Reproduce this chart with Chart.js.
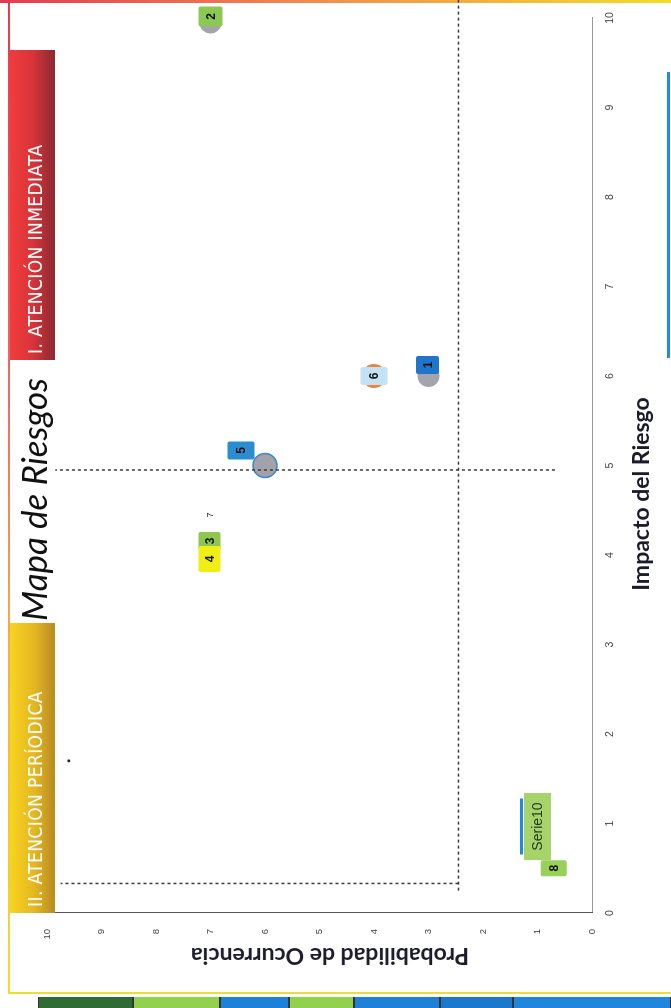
<!DOCTYPE html>
<html><head><meta charset="utf-8">
<script src="https://cdn.jsdelivr.net/npm/chart.js@4.4.0/dist/chart.umd.min.js"></script>
<style>
html,body{margin:0;padding:0;background:#fff;width:671px;height:1008px;overflow:hidden;}
#stage{position:absolute;left:0;top:0;width:1008px;height:671px;transform-origin:0 0;transform:translateY(1008px) rotate(-90deg);background:#fff;overflow:hidden;}
.abs{position:absolute;}
#chart{position:absolute;left:0;top:0;}
.bar{position:absolute;color:#fff;font-family:"Liberation Sans Narrow","DejaVu Sans Condensed","Roboto",sans-serif;font-size:19px;letter-spacing:0.4px;line-height:45px;padding-left:6px;box-sizing:border-box;white-space:nowrap;padding-top:3px;}
#titulo{position:absolute;left:387px;top:16px;font-family:"Lato",sans-serif;font-style:italic;font-size:35px;line-height:35px;color:#111;white-space:nowrap;}
.ejeTitulo{position:absolute;font-family:"Lato",sans-serif;font-weight:700;font-size:23px;line-height:26px;color:#1b1b2b;white-space:nowrap;}
.cell{position:absolute;left:0;width:11px;box-sizing:border-box;border-top:1px solid #333;border-bottom:1px solid #333;}
</style></head>
<body>
<div id="stage">
  <div class="abs" style="left:15px;top:8px;width:993px;height:2px;background:linear-gradient(to right,#f0dc30 0%,#f3b04a 35%,#ec6a6a 60%,#e8384f 100%);"></div>
  <div class="abs" style="left:1005px;top:0;width:3px;height:671px;background:linear-gradient(to bottom,#e8384f 0%,#f08a50 45%,#f3dc2a 100%);"></div>
  <div class="abs" style="left:14px;top:8px;width:2px;height:663px;background:#e8df3a;"></div>
  <canvas id="chart" width="1008" height="671"></canvas>
  <div class="bar" style="left:648px;top:10px;width:310px;height:45px;background:linear-gradient(to bottom,#f23c3c 0%,#d8343a 50%,#8a2a30 100%);">I. ATENCIÓN INMEDIATA</div>
  <div class="bar" style="left:95px;top:10px;width:290px;height:45px;background:linear-gradient(to bottom,#f8d420 0%,#e4b622 55%,#b48c22 100%);">II. ATENCIÓN PERÍODICA</div>
  <div id="titulo">Mapa de Riesgos</div>
  <div class="ejeTitulo" style="left:51px;top:330px;transform:translate(-50%,-50%) rotate(-90deg);">Probabilidad de Ocurrencia</div>
  <div class="ejeTitulo" style="left:514px;top:640px;transform:translate(-50%,-50%);">Impacto del Riesgo</div>
  <div class="abs" style="left:650px;top:667px;width:286px;height:3px;background:#1e8fe0;"></div>
  <div class="cell" style="top:38px;height:95px;background:#2f6b34;"></div>
  <div class="cell" style="top:133px;height:87px;background:#92d050;"></div>
  <div class="cell" style="top:220px;height:69px;background:#1e80d8;"></div>
  <div class="cell" style="top:289px;height:65px;background:#92d050;"></div>
  <div class="cell" style="top:354px;height:86px;background:#1e80d8;"></div>
  <div class="cell" style="top:440px;height:73px;background:#1c78cc;"></div>
  <div class="cell" style="top:513px;height:158px;background:#1e86dc;"></div>
</div>
<script>
// ---- Data ----
const riesgos = ['1','2','3','4','5','6','7','8'];
const impacto = [6, 9.95, 4, 4, 5, 6, 4, 0.5];
const probabilidad = [3, 7, 7, 7, 6, 4, 7, 0.7];
const serieNombre = ['Serie10'];
const serieImpacto = [1];
const serieProbabilidad = [1];
const puntoImpacto = [1.7];
const puntoProbabilidad = [9.6];
const limiteProbImpacto = [0.25, 10.2];
const limiteProbValor = [2.45, 2.45];
const limiteImpValor = [4.95, 4.95];
const limiteImpProbabilidad = [0.68, 9.85];
const limiteBajoImpacto = [0.33, 0.33];
const limiteBajoProbabilidad = [2.45, 9.75];
const ticksEje = [0,1,2,3,4,5,6,7,8,9,10];

// ---- Styles ----
const estiloMarcador = {
  '1':{r:11,c:'#a4a4ac',b:'#a4a4ac',bw:0},
  '2':{r:11,c:'#a4a4ac',b:'#a4a4ac',bw:0},
  '3':{r:7,c:'#a4a4ac',b:'#a4a4ac',bw:0},
  '4':{r:7,c:'#a4a4ac',b:'#a4a4ac',bw:0},
  '5':{r:12,c:'#a2a2aa',b:'#3b86c8',bw:1.5},
  '6':{r:12,c:'#ee8040',b:'#ee8040',bw:0},
  '7':{r:0,c:'#fff',b:'#fff',bw:0},
  '8':{r:0,c:'#fff',b:'#fff',bw:0}
};
const estiloEtiqueta = {
  '1':{fill:'#1f74cc',w:18,h:23,du:11,dv:-1},
  '2':{fill:'#8dc852',w:20,h:24,du:6,dv:0},
  '3':{fill:'#8fc64f',w:18,h:22,du:14,dv:-1},
  '4':{fill:'#f0ee14',w:26,h:22,du:-4,dv:-1},
  '5':{fill:'#2b8dd0',w:18,h:27,du:15,dv:-24},
  '6':{fill:'#c4e2f6',w:18,h:27,du:0,dv:0},
  '7':{fill:null,du:40,dv:0},
  '8':{fill:'#98d058',w:16,h:26,du:0,dv:0}
};

const pares = (xs, ys) => xs.map((x,i)=>({x:x, y:ys[i]}));

const etiquetasPlugin = {
  id:'etiquetas',
  afterDatasetsDraw(chart){
    const ctx = chart.ctx;
    const xs = chart.scales.x, ys = chart.scales.y;
    ctx.save();
    ctx.textAlign='center'; ctx.textBaseline='middle';
    riesgos.forEach((id,i)=>{
      const e = estiloEtiqueta[id];
      const px = xs.getPixelForValue(impacto[i]) + e.du;
      const py = ys.getPixelForValue(probabilidad[i]) + e.dv;
      if (e.fill){
        ctx.fillStyle = e.fill;
        ctx.beginPath();
        ctx.roundRect(px - e.w/2, py - e.h/2, e.w, e.h, 2);
        ctx.fill();
        ctx.fillStyle='#111';
        ctx.font='bold 12px "Liberation Sans", sans-serif';
        ctx.fillText(id, px, py+1);
      } else {
        ctx.fillStyle='#333';
        ctx.font='9px "Liberation Sans", sans-serif';
        ctx.fillText(id, px, py);
      }
    });
    serieNombre.forEach((nm,i)=>{
      const px = xs.getPixelForValue(serieImpacto[i]) - 3;
      const py = ys.getPixelForValue(serieProbabilidad[i]);
      const w = 67, h = 27;
      ctx.fillStyle='#a6d36a';
      ctx.fillRect(px-w/2, py-h/2, w, h);
      ctx.fillStyle='#1e8be0';
      ctx.fillRect(px-28, py-h/2-4, 56, 3);
      ctx.fillStyle='#1f3a1f';
      ctx.font='14px "Liberation Sans", sans-serif';
      ctx.fillText(nm, px, py+1);
    });
    ctx.restore();
  }
};

const lineaDash = {type:'line', showLine:true, borderColor:'#3a3a3a', borderWidth:1.5, borderDash:[3,3], pointRadius:0, clip:false, fill:false, order:1};

new Chart(document.getElementById('chart'), {
  type:'scatter',
  data:{datasets:[
    Object.assign({label:'lim1', data:pares(limiteProbImpacto, limiteProbValor)}, lineaDash),
    Object.assign({label:'lim2', data:pares(limiteImpValor, limiteImpProbabilidad)}, lineaDash),
    Object.assign({label:'lim3', data:pares(limiteBajoImpacto, limiteBajoProbabilidad)}, lineaDash),
    {label:'Riesgos', data:pares(impacto, probabilidad), order:2, clip:false,
      pointRadius: riesgos.map(id=>estiloMarcador[id].r),
      pointBackgroundColor: riesgos.map(id=>estiloMarcador[id].c),
      pointBorderColor: riesgos.map(id=>estiloMarcador[id].b),
      pointBorderWidth: riesgos.map(id=>estiloMarcador[id].bw)},
    {label:'punto', data:pares(puntoImpacto, puntoProbabilidad), order:2, clip:false, pointRadius:1.5, pointBackgroundColor:'#222', pointBorderWidth:0}
  ]},
  options:{
    responsive:false, animation:false, devicePixelRatio:1,
    layout:{padding:{top:47,right:18,bottom:0,left:0}},
    plugins:{legend:{display:false}, tooltip:{enabled:false}},
    scales:{
      x:{type:'linear', min:0, max:10, position:'bottom',
        afterFit(s){ s.height = 79; },
        afterBuildTicks(s){ s.ticks = ticksEje.map(v=>({value:v})); },
        ticks:{padding:12, color:'#444', font:{size:10.5, family:'"Liberation Sans", sans-serif'}},
        grid:{display:false, drawTicks:false},
        border:{display:true, color:'#9a9a9a', width:1},
        title:{display:false}
      },
      y:{type:'linear', min:0, max:10, position:'left',
        afterFit(s){ s.width = 95; },
        afterBuildTicks(s){ s.ticks = ticksEje.map(v=>({value:v})); },
        ticks:{padding:16, color:'#444', font:{size:9.5, family:'"Liberation Sans", sans-serif'}},
        grid:{display:false, drawTicks:false},
        border:{display:true, color:'#555', width:1},
        title:{display:false}
      }
    }
  },
  plugins:[etiquetasPlugin]
});
</script>
</body></html>
